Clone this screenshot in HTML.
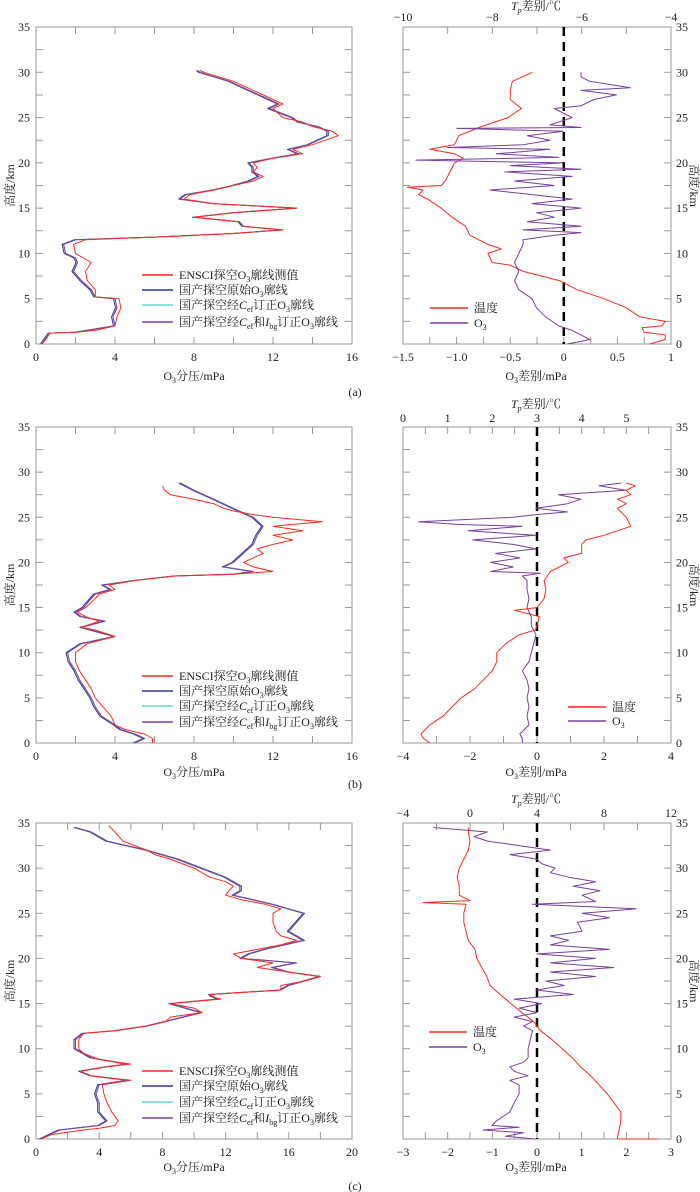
<!DOCTYPE html>
<html><head><meta charset="utf-8"><style>
body{margin:0;background:#fff}
svg{display:block;font-family:"Liberation Serif","Noto Serif CJK SC",serif}
</style></head><body>
<svg id="fig" width="700" height="1192" viewBox="0 0 700 1192" xmlns="http://www.w3.org/2000/svg"></svg>
<script>
// ---- Panel (a) left: heights & O3 partial pressure
const aRedH=[0,0.5,1.2,1.3,1.5,2,3,4,5,5.2,6,7,8,9,9.5,10,11,11.5,11.8,12.2,12.6,13,13.5,14,14.5,15,15.5,16,16.5,17,17.5,18,18.5,19,19.5,20,20.5,21,21.5,22,23,23.5,24,24.5,25,26,26.5,27,28,29,30,30.2];
const aRedV=[0.3,0.5,0.7,2,3,4,4.1,4.3,4.2,3,3,2.6,2.5,2.8,2.4,2,1.9,2.5,6,10,12.5,10.5,10.3,8,10,13.2,9,7.5,7.8,9,10,11,11.5,11,11.2,11,12,13.5,13,14,15.3,15,14,13.5,12.5,12,12.5,12,11,10,8.5,8.3];
const aBlueH=[0,1.2,1.3,2,3,4,5,5.2,6,7,8,9,9.5,10,11,11.5,11.8,12.2,12.6,13,13.5,14,14.5,15,15.5,16,16.5,17,17.5,18,18.5,19,19.5,20,20.5,21,21.5,22,23,23.5,24,24.5,25,26,26.5,27,28,29,30,30.2];
const aBlueV=[0.3,0.7,2,4,3.9,4.1,4,3,2.8,2.3,1.9,2.1,2,1.5,1.4,2,6,10,12.5,10.5,10.3,8,10,13.2,9,7.3,7.6,9,10,10.8,11.3,11,11,10.8,12,13.3,12.8,13.8,14.8,14.8,14.3,13.3,13,11.8,12.3,11.8,10.8,9.8,8.3,8.2];
// ---- Panel (a) right
const aTH=[0,0.5,1,1.3,1.8,2,2.5,3,4,5,6,7,8,8.7,9,10,10.5,11,12,13,14,15,16,16.5,17,17.3,17.5,18,19,20,20.5,21,21.5,22,23,24,25,26,27,28,29,30];
const aTV=[-4.48,-4.13,-4.13,-4.6,-4.65,-4.2,-4.13,-4.7,-5.0,-5.5,-6.1,-6.5,-7.3,-7.6,-8.0,-8.1,-7.8,-8.1,-8.5,-8.6,-8.9,-9.15,-9.45,-9.65,-9.55,-9.9,-9.15,-9.05,-8.95,-8.85,-8.65,-8.85,-9.4,-8.85,-8.75,-8.25,-7.65,-7.35,-7.6,-7.6,-7.55,-7.1];
const aOH=[0,0.5,1,1.5,2,3,4,5,6,7,8,9,10,11,11.5,12,12.3,12.6,13,13.5,14,14.5,15,15.5,16,16.5,17,17.5,18,18.5,19,19.3,19.7,20,20.3,20.6,21,21.5,21.7,22,22.5,23,23.5,23.8,23.9,24.2,25,26,26.3,27,27.5,28,28.3,29,29.5,30];
const aOV=[0.035,0.243,0.16,0.077,-0.048,-0.17,-0.255,-0.297,-0.42,-0.46,-0.42,-0.46,-0.42,-0.38,-0.38,-0.09,0.16,-0.38,0.16,-0.34,-0.09,-0.255,0.16,-0.297,0.077,-0.297,-0.69,-0.09,-0.46,0.077,-0.55,0.16,-0.5,-0.006,-1.38,-0.048,-0.63,-0.13,-1.085,-0.38,-0.13,-0.34,-0.006,-1.0,0.16,-0.13,0.077,-0.09,0.16,0.28,0.49,0.16,0.62,0.24,0.16,0.16];
// ---- Panel (b) left
const bRedH=[0,0.5,1,1.5,2,3,4,5,6,7,8,9,10,11,11.8,12.5,12.8,13.5,14,14.5,15,16,16.5,17,17.5,18,18.5,18.7,19,19.5,20,20.5,21,21.5,22,22.5,23,23.5,24,24.5,25,25.3,25.7,26,26.5,27,27.5,28,28.5];
const bRedV=[5.9,5.9,5.5,4.5,4,3.8,3.4,3.0,2.8,2.5,2.2,2.0,2.0,2.6,4,3,2.3,3.2,2.5,2.1,2.5,3,3.2,4,3.7,5,7,10,12,11,10.5,11,11.5,11.2,12,13,12,13.5,12,14.5,12,11,10,9.5,9,8,6.8,6.5,6.4];
const bBlueH=[0,0.5,1,1.5,2,3,4,5,6,7,8,9,10,11,11.8,12.5,12.8,13.5,14,14.5,15,16,16.5,17,17.5,18,18.5,18.7,19,19.5,20,21,22,23,24,25,25.5,26,27,28,28.8];
const bBlueV=[5,5.5,5,4.3,4,3.3,3,2.8,2.5,2.2,2.0,1.7,1.6,2.3,4,2.8,2.3,3.5,2.3,2.0,2.4,2.8,3,3.8,3.4,5,7,10,11,9.5,10,10.5,11,11.2,11.5,11,10.5,10,9,8,7.3];
// ---- Panel (b) right
const bTH=[0,0.5,1,2,3,4,5,6,7,8,9,10,11,12,12.5,13,14,14.7,15,16,17,18,19,20,20.5,21,22,22.5,23,24,25,26,26.5,27,27.5,28,28.5,28.8];
const bTV=[0.6,0.46,0.4,0.6,0.9,1.1,1.3,1.6,1.8,2.0,2.1,2.1,2.3,2.6,2.96,3.0,3.05,2.5,3.0,3.16,3.2,3.16,3.3,3.7,3.6,4.0,4.0,4.1,4.5,5.1,5.0,4.8,5.0,4.8,5.1,5.0,5.2,5.0];
const bOH=[0,0.5,1,2,3,4,5,6,7,8,9,10,11,12,13,14,15,16,17,18,18.5,18.8,19,19.5,20,20.5,21,21.5,22,22.5,23,23.5,24,24.2,24.5,25,25.3,25.6,26,26.5,27,27.5,28,28.5,28.8];
const bOV=[-0.44,-0.44,-0.51,-0.24,-0.30,-0.24,-0.30,-0.24,-0.30,-0.44,-0.24,-0.17,-0.10,-0.03,-0.17,-0.17,-0.30,-0.24,-0.30,-0.30,-0.44,0.10,-1.38,-0.71,-1.38,-0.51,-1.24,-0.03,-0.71,-1.92,-0.03,-2.05,-0.44,-2.32,-3.53,-0.71,-0.03,0.91,-0.03,0.91,1.31,0.64,2.65,1.85,2.52];
// ---- Panel (c) left
const cRedH=[0,0.5,1,1.2,1.5,2,3,4,5,6,6.5,7,7.5,8,8.3,8.8,9.5,10,11,11.7,12,12.5,13,13.5,14,14.5,15,15.5,15.8,16,16.5,17,17.5,18,18.5,19,19.5,20,20.5,21,21.5,22,22.5,23,24,25,25.5,26,26.5,27,27.5,28,28.5,29,30,31,31.5,32,33,34,34.7];
const cRedV=[0.3,1,3,4,5,5.2,4.8,4.5,4.3,4.2,6,3.5,2.8,4.5,6,4,3,2.7,2.7,3,5,7,8.2,8.5,10.5,10,8.5,11.7,11,11,15.5,15.5,17,18,16,14,15,13,12.5,14,15.5,16.5,15.5,15.2,15,15,15.5,14.5,13,12,12.2,12.5,12,11,10,8.5,7.5,7,5.5,5,4.6];
const cBlueH=[0,1,1.5,2,3,4,5,6,6.5,7,7.5,8,8.3,9,10,11,11.7,12,12.5,13,14,15,15.5,16,16.5,17,18,18.5,19,19.5,20,20.5,21,22,23,24,25,25.5,26,27,27.5,28,29,30,31,32,33,34,34.5];
const cBlueV=[0.3,1.5,4,4.5,4,4,3.8,4,5.8,3.5,2.8,4.5,5.8,3.5,2.5,2.5,3,5,7,8.2,10.5,8.5,11.5,11,15.5,16,18,16,15,16.5,13,13.5,14.5,17,16,16.5,17,16,15,12.5,13,13,12,10.5,9,7,4.5,3.5,2.5];
// ---- Panel (c) right
const cTH=[0,0,0.2,1,2,3,4,5,6,7,8,9,10,11,12,13,14,15,16,17,18,19,20,21,22,23,24,25,26,26.2,26.4,27,28,29,30,31,32,33,34,34.5];
const cTV=[11.2,8.8,8.8,8.9,9.0,9.0,8.6,8.2,7.7,7.2,6.6,6.1,5.5,4.9,4.2,3.8,3.1,2.45,1.8,1.2,1.0,0.7,0.4,0.3,-0.1,-0.24,-0.37,-0.37,-0.24,-2.8,0,-0.64,-0.64,-0.77,-0.64,-0.37,-0.1,0,-0.1,-0.1];
const cOH=[0,0.3,0.7,1,1.3,1.5,2,3,4,5,6,6.5,7,7.5,8,8.5,9,10,11,12,12.5,13,13.5,14,14.5,15,15.5,16,16.5,17,17.5,18,18.5,19,19.5,20,20.5,21,21.5,22,22.5,23,24,24.5,25,25.5,26,26.3,27,27.5,28,28.5,29,29.5,30,30.5,31,31.5,32,32.5,33,33.5,34,34.5];
const cOV=[-0.05,-0.71,-0.30,-1.21,-0.40,-1.01,-0.91,-0.61,-0.51,-0.40,-0.40,-0.61,-0.20,-0.51,-0.61,-0.30,-0.20,-0.20,-0.15,-0.10,-0.30,-0.10,-0.51,0,-0.40,0.10,-0.51,0.81,0,0.61,0.20,1.31,0.30,1.72,0.30,1.31,0,1.62,0.30,0.71,0.30,1.01,0.91,1.62,1.01,2.22,-0.10,1.31,1.01,1.41,0.81,1.31,0.71,0.30,0.40,0.10,0,-0.61,0.30,-0.40,-1.11,-1.41,-1.11,-2.32];

const NS='http://www.w3.org/2000/svg';
const svg=document.getElementById('fig');
function el(tag,attrs,parent){const e=document.createElementNS(NS,tag);for(const k in attrs)e.setAttribute(k,attrs[k]);(parent||svg).appendChild(e);return e;}
function txt(x,y,s,size,anchor,parent){const t=el('text',{x:x,y:y,'font-size':size,'text-anchor':anchor||'middle',fill:'#222'},parent);t.textContent=s;return t;}
function poly(H,V,sx,sy,color,name,g,dx){
  const p=el('polyline',{points:H.map((h,i)=>(sx(V[i])+(dx||0)).toFixed(1)+','+sy(h).toFixed(1)).join(' '),fill:'none',stroke:color,'stroke-width':1,'stroke-linejoin':'round'},g);
  
  
}
function frame(g,x0,x1,y0,y1){
  const r=el('rect',{x:x0,y:y0,width:x1-x0,height:y1-y0,fill:'none',stroke:'#9a9a9a','stroke-width':1},g);
  
  
}
function yAxis(g,x0,x1,sy,left,right){
  for(let h=0;h<=35;h+=2.5){
    const y=sy(h);
    el('line',{x1:x0,y1:y,x2:x0+7,y2:y,stroke:'#9a9a9a'},g);
    el('line',{x1:x1,y1:y,x2:x1-7,y2:y,stroke:'#9a9a9a'},g);
    if(h%5===0){
      if(left){const t=txt(x0-6,y+4,String(h),12,'end',g);}
      if(right){const t=txt(x1+5,y+4,String(h),12,'start',g);}
    }
  }
}
function ylabel(g,x,y,rot){
  const t=el('text',{x:0,y:0,'font-size':12,'text-anchor':'middle',fill:'#222',transform:`translate(${x},${y}) rotate(${rot})`},g);
  t.textContent='高度/km';
  
  
}
function o3label(g,x,y,rest){
  const t=el('text',{x:x,y:y,'font-size':12,'text-anchor':'middle',fill:'#222'},g);
  
  
  let s=el('tspan',{},t);s.textContent='O';
  s=el('tspan',{'font-size':8,dy:3},t);s.textContent='3';
  s=el('tspan',{dy:-3},t);s.textContent=rest;
}
function leftLegend(g,x,ys){
  const items=[['#ff2a1a','ENSCI探空','O3','廓线测值'],['#33349a','国产探空原始','O3','廓线'],['#6fd6d6','','O3','廓线'],['#7a3fa0','','O3','廓线']];
  items.forEach((it,i)=>{
    const y=ys[i];
    const lg=el('g',{},g);
    
    
    el('line',{x1:x,y1:y,x2:x+31,y2:y,stroke:it[0],'stroke-width':1.5},lg);
    const t=el('text',{x:x+37,y:y+4,'font-size':12,fill:'#222'},lg);
    let s;
    if(i<2){s=el('tspan',{},t);s.textContent=it[1];}
    else{
      s=el('tspan',{},t);s.textContent='国产探空经';
      s=el('tspan',{'font-style':'italic'},t);s.textContent='C';
      s=el('tspan',{'font-size':8,dy:3},t);s.textContent='ef';
      s=el('tspan',{dy:-3},t);s.textContent=i===2?'订正':'和';
      if(i===3){s=el('tspan',{'font-style':'italic'},t);s.textContent='I';
        s=el('tspan',{'font-size':8,dy:3},t);s.textContent='bg';
        s=el('tspan',{dy:-3},t);s.textContent='订正';}
    }
    s=el('tspan',{},t);s.textContent='O';
    s=el('tspan',{'font-size':8,dy:3},t);s.textContent='3';
    s=el('tspan',{dy:-3},t);s.textContent=it[3];
  });
}
function rightLegend(g,x,ys){
  [['#ff2a1a','温度'],['#7a3fa0','O3']].forEach((it,i)=>{
    const lg=el('g',{},g);
    
    
    el('line',{x1:x,y1:ys[i],x2:x+38,y2:ys[i],stroke:it[0],'stroke-width':1.5},lg);
    const t=el('text',{x:x+44,y:ys[i]+4,'font-size':12,fill:'#222'},lg);
    if(i===0)t.textContent='温度';
    else{let s=el('tspan',{},t);s.textContent='O';s=el('tspan',{'font-size':8,dy:3},t);s.textContent='3';}
  });
}
function lin(d0,d1,p0,p1){return v=>p0+(v-d0)*(p1-p0)/(d1-d0);}

function leftPanel(name,y0,y1,xmax,xstep,red,blue,legYs,letterY,labelY){
  const g=el('g',{});
  const x0=36,x1=352;const sx=lin(0,xmax,x0,x1),sy=lin(0,35,y1,y0);
  frame(g,x0,x1,y0,y1);yAxis(g,x0,x1,sy,true,false);
  for(let v=0;v<=xmax;v+=xstep/2){const x=sx(v);
    el('line',{x1:x,y1:y1,x2:x,y2:y1-7,stroke:'#9a9a9a'},g);el('line',{x1:x,y1:y0,x2:x,y2:y0+7,stroke:'#9a9a9a'},g);
    if(v%xstep===0){const t=txt(x,y1+17,String(v),12,'middle',g);}}
  poly(blue[0],blue[1],sx,sy,'#33349a','series-original',g,-1.5);
  poly(blue[0],blue[1],sx,sy,'#6fd6d6','series-cef-corrected',g);
  poly(blue[0],blue[1],sx,sy,'#7a3fa0','series-cef-ibg-corrected',g);
  poly(red[0],red[1],sx,sy,'#ff2a1a','series-ensci',g);
  leftLegend(g,142,legYs);
  ylabel(g,14,(y0+y1)/2,-90);
  o3label(g,194,labelY,'分压/mPa');
  return g;
}
function rightPanel(name,y0,y1,omin,omax,ostep,ominor,tmin,tmax,tstep,tLabelMax,temp,o3,legX,legYs,labelY,titleY,topLblY){
  const g=el('g',{});
  const x0=403,x1=671;const sx=lin(omin,omax,x0,x1),st=lin(tmin,tmax,x0,x1),sy=lin(0,35,y1,y0);
  frame(g,x0,x1,y0,y1);yAxis(g,x0,x1,sy,false,true);
  for(let v=omin;v<=omax+1e-9;v+=ominor){const x=sx(v);el('line',{x1:x,y1:y1,x2:x,y2:y1-7,stroke:'#9a9a9a'},g);}
  for(let v=omin;v<=omax+1e-9;v+=ostep){const x=sx(v);
    let s=Math.round(v*10)/10;let lab=s===0?'0':(s<0?'−':'')+String(Math.abs(s));
    if(ostep===0.5&&Math.abs(s)>=1&&Math.abs(s)%1===0&&s!==1)lab=(s<0?'−':'')+Math.abs(s).toFixed(1);
    const t=txt(x,y1+17,lab,12,'middle',g);}
  for(let v=tmin;v<=tmax+1e-9;v+=tstep/2){const x=st(v);el('line',{x1:x,y1:y0,x2:x,y2:y0+7,stroke:'#9a9a9a'},g);
    if(Math.abs((v-tmin)%tstep)<1e-9&&v<=tLabelMax){const t=txt(x,topLblY,(v<0?'−':'')+Math.abs(v),12,'middle',g);}}
  const d=el('line',{x1:sx(0),y1:y0,x2:sx(0),y2:y1,stroke:'#000','stroke-width':2.5,'stroke-dasharray':'9,6'},g);
  
  poly(temp[0],temp[1],st,sy,'#ff2a1a','temperature-diff-line',g);
  poly(o3[0],o3[1],sx,sy,'#7a3fa0','o3-diff-line',g);
  rightLegend(g,legX,legYs);
  ylabel(g,690,(y0+y1)/2,90);
  o3label(g,536,labelY,'差别/mPa');
  const tt=el('text',{x:536,y:titleY,'font-size':12,'text-anchor':'middle',fill:'#222'},g);
  
  let s=el('tspan',{'font-style':'italic'},tt);s.textContent='T';
  s=el('tspan',{'font-size':8,dy:3,'font-style':'italic'},tt);s.textContent='p';
  s=el('tspan',{dy:-3},tt);s.textContent='差别/℃';
}
function letter(s,y){const t=txt(355,y,s,12,'middle');}

leftPanel('panel-a-left',27,344,16,4,[aRedH,aRedV],[aBlueH,aBlueV],[275,290,305,322],392,380);
rightPanel('panel-a-right',27,344,-1.5,1,0.5,0.25,-10,-4,2,-4,[aTH,aTV],[aOH,aOV],430,[308,323],380,10,21);
letter('(a)',396);
leftPanel('panel-b-left',427,743,16,4,[bRedH,bRedV],[bBlueH,bBlueV],[676,691,706,722],786,776);
rightPanel('panel-b-right',427,743,-4,4,2,1,0,6,1,5,[bTH,bTV],[bOH,bOV],568,[707,721],776,408,422);
letter('(b)',788);
leftPanel('panel-c-left',823,1139,20,4,[cRedH,cRedV],[cBlueH,cBlueV],[1071,1086,1102,1118],1186,1171);
rightPanel('panel-c-right',823,1139,-3,3,1,0.5,-4,12,4,12,[cTH,cTV],[cOH,cOV],429,[1032,1047],1171,803,817);
letter('(c)',1190);
</script>
</body></html>
